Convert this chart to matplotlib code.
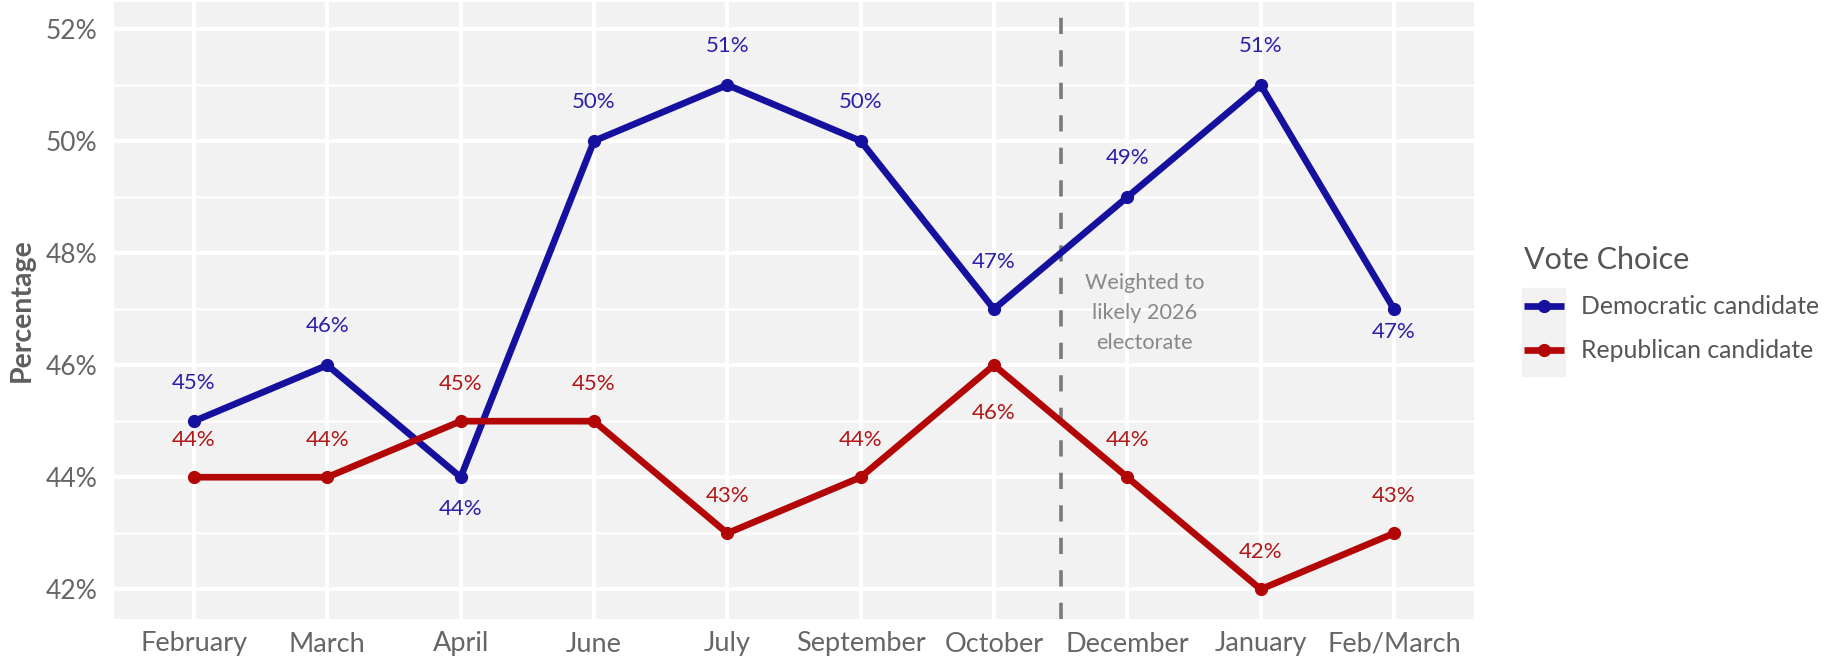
import matplotlib.pyplot as plt
from matplotlib.patches import Rectangle
from matplotlib.ticker import FixedLocator, FuncFormatter

plt.rcParams['font.family'] = ['Lato', 'DejaVu Sans']

months = ["February", "March", "April", "June", "July", "September",
          "October", "December", "January", "Feb/March"]
dem = [45, 46, 44, 50, 51, 50, 47, 49, 51, 47]
rep = [44, 44, 45, 45, 43, 44, 46, 44, 42, 43]

# label nudges (percentage points)
dem_nudge = [0.69, 0.69, -0.56, 0.69, 0.69, 0.69, 0.84, 0.69, 0.69, -0.40]
rep_nudge = [0.67, 0.67, 0.67, 0.67, 0.67, 0.67, -0.86, 0.67, 0.67, 0.67]

DEM_COL = "#16109e"
REP_COL = "#b30606"
DEM_TXT = "#2a20a8"
REP_TXT = "#b01818"

W, H = 1837, 660
fig = plt.figure(figsize=(W / 100, H / 100), dpi=100)
ax = fig.add_axes([114 / W, 1 - 619 / H, (1474 - 114) / W, (619 - 2) / H])
ax.set_facecolor("#f2f2f2")

x = list(range(len(months)))
ax.plot(x, dem, color=DEM_COL, lw=4.8, marker="o", ms=8.5,
        solid_capstyle="butt", label="Democratic candidate", zorder=4)
ax.plot(x, rep, color=REP_COL, lw=4.8, marker="o", ms=8.5,
        solid_capstyle="butt", label="Republican candidate", zorder=4)

for i in x:
    ax.text(i, dem[i] + dem_nudge[i], f"{dem[i]}%", color=DEM_TXT,
            fontsize=16, ha="center", va="center", zorder=5)
    ax.text(i, rep[i] + rep_nudge[i], f"{rep[i]}%", color=REP_TXT,
            fontsize=16, ha="center", va="center", zorder=5)

ax.axvline(6.5, color="#7a7a7a", lw=2.6, dashes=(4.5, 4.5), zorder=3)
ax.text(7.13, 46.93, "Weighted to\nlikely 2026\nelectorate", color="#888888",
        fontsize=15.6, ha="center", va="center", linespacing=1.6, zorder=5)

ax.set_xlim(-0.6, 9.6)
ax.set_ylim(41.47, 52.48)
ax.set_xticks(x, months)
ax.yaxis.set_major_locator(FixedLocator([42, 44, 46, 48, 50, 52]))
ax.yaxis.set_minor_locator(FixedLocator([43, 45, 47, 49, 51]))
ax.yaxis.set_major_formatter(FuncFormatter(lambda v, p: f"{v:.0f}%"))

ax.grid(True, which="major", color="white", lw=2.8, zorder=0)
ax.grid(True, which="minor", axis="y", color="white", lw=1.8, zorder=0)
ax.set_axisbelow(True)
for s in ax.spines.values():
    s.set_visible(False)
ax.tick_params(which="both", length=0)
ax.tick_params(axis="y", labelsize=19, labelcolor="#666666", pad=12)
ax.tick_params(axis="x", labelsize=19.5, labelcolor="#666666", pad=9)

ax.set_ylabel("Percentage", fontsize=20.5, fontweight="bold", color="#5e5e5e",
              labelpad=8)

# legend key background
fig.patches.append(Rectangle((1522 / W, 1 - 376 / H), 43 / W, 88 / H,
                             transform=fig.transFigure, color="#f2f2f2",
                             zorder=-1))
leg = ax.legend(loc="upper left", bbox_to_anchor=(1502 / W, 1 - 224 / H),
                bbox_transform=fig.transFigure, frameon=False,
                title="Vote Choice", fontsize=17.8, title_fontsize=22,
                handlelength=1.6, handletextpad=0.7, labelspacing=0.85,
                alignment="left")
leg.get_title().set_color("#555555")
for t in leg.get_texts():
    t.set_color("#555555")

fig.savefig("out.png", dpi=100, facecolor="white")
